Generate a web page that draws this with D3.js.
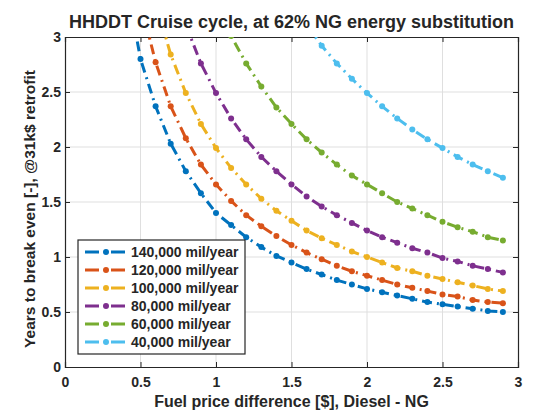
<html>
<head>
<meta charset="utf-8">
<script src="https://d3js.org/d3.v7.min.js"></script>
<style>
    body { margin: 0; background: #fff; }
    text { font-family: "Liberation Sans", Arial, sans-serif; font-weight: bold; fill: #262626; }
</style>
</head>
<body>
<div id="vis_container"></div>
<script>
    // fuel price difference [$], shared by all series
    var priceDiff = [0.4,0.5,0.6,0.7,0.8,0.9,1.0,1.1,1.2,1.3,1.4,1.5,1.6,1.7,1.8,1.9,2.0,2.1,2.2,2.3,2.4,2.5,2.6,2.7,2.8,2.9];

    // years to break even (null = not drawn)
    var y140k = [3.55,2.80,2.37,2.03,1.78,1.58,1.40,1.29,1.18,1.09,1.01,0.95,0.89,0.84,0.79,0.75,0.71,0.68,0.65,0.62,0.59,0.57,0.55,0.53,0.51,0.50];
    var y120k = [null,3.32,2.77,2.37,2.08,1.84,1.66,1.51,1.38,1.28,1.19,1.11,1.04,0.98,0.92,0.87,0.83,0.79,0.75,0.72,0.69,0.66,0.64,0.61,0.59,0.58];
    var y100k = [null,null,3.32,2.84,2.49,2.21,1.99,1.81,1.66,1.53,1.42,1.33,1.24,1.17,1.11,1.05,1.00,0.95,0.90,0.87,0.83,0.80,0.77,0.74,0.71,0.69];
    var y80k  = [null,null,null,null,3.11,2.76,2.49,2.26,2.07,1.91,1.78,1.66,1.55,1.46,1.38,1.31,1.24,1.18,1.13,1.08,1.04,0.99,0.96,0.92,0.89,0.86];
    var y60k  = [null,null,null,null,null,null,3.31,3.01,2.76,2.55,2.36,2.21,2.07,1.95,1.84,1.74,1.66,1.58,1.50,1.44,1.38,1.32,1.27,1.23,1.18,1.15];
    var y40k  = [null,null,null,null,null,null,null,null,null,null,null,null,3.11,2.92,2.76,2.62,2.49,2.37,2.26,2.16,2.07,1.99,1.91,1.84,1.78,1.72];

    var seriesNames = ["140,000 mil/year","120,000 mil/year","100,000 mil/year","80,000 mil/year","60,000 mil/year","40,000 mil/year"];
    var seriesValues = [y140k, y120k, y100k, y80k, y60k, y40k];
    var colors = ["#0072BD","#D95319","#EDB120","#7E2F8E","#77AC30","#4DBEEE"];

    var xTicks = [0,0.5,1,1.5,2,2.5,3];
    var yTicks = [0,0.5,1,1.5,2,2.5,3];

    var width = 536, height = 412;
    // plot box (don't call these top/left: window.top is read-only)
    var pLeft = 65, pRight = 518, pTop = 37, pBottom = 367;

    var svg = d3.select("#vis_container")
        .append("svg")
        .attr("width", width)
        .attr("height", height);

    var x = d3.scaleLinear().domain([0,3]).range([pLeft,pRight]);
    var y = d3.scaleLinear().domain([0,3]).range([pBottom,pTop]);

    //grid
    svg.append("g").selectAll("line").data(xTicks.slice(1,-1)).enter().append("line")
        .attr("x1", function(d){ return x(d); }).attr("x2", function(d){ return x(d); })
        .attr("y1", pTop).attr("y2", pBottom)
        .style("stroke", "#dfdfdf").style("stroke-width", 1);
    svg.append("g").selectAll("line").data(yTicks.slice(1,-1)).enter().append("line")
        .attr("y1", function(d){ return y(d); }).attr("y2", function(d){ return y(d); })
        .attr("x1", pLeft).attr("x2", pRight)
        .style("stroke", "#dfdfdf").style("stroke-width", 1);

    //axes, ticks pointing inward
    var xAxis = svg.append("g")
        .attr("transform", "translate(0," + pBottom + ")")
        .call(d3.axisBottom(x).tickValues(xTicks).tickSize(-5).tickPadding(10).tickFormat(d3.format("")));
    var xTop = svg.append("g")
        .attr("transform", "translate(0," + pTop + ")")
        .call(d3.axisTop(x).tickValues(xTicks).tickSize(-5).tickFormat(""));
    var yAxis = svg.append("g")
        .attr("transform", "translate(" + pLeft + ",0)")
        .call(d3.axisLeft(y).tickValues(yTicks).tickSize(-5).tickPadding(4).tickFormat(d3.format("")));
    var yRight = svg.append("g")
        .attr("transform", "translate(" + pRight + ",0)")
        .call(d3.axisRight(y).tickValues(yTicks).tickSize(-5).tickFormat(""));

    [xAxis, xTop, yAxis, yRight].forEach(function(g) {
        g.selectAll("path").style("stroke", "#262626").style("stroke-width", 1.2);
        g.selectAll("line").style("stroke", "#262626");
        g.selectAll("text").style("font-size", "14px").style("font-family", "Liberation Sans, Arial, sans-serif")
            .style("font-weight", "bold").style("fill", "#262626");
    });

    //clip to plot area
    svg.append("clipPath").attr("id", "clip")
        .append("rect").attr("x", pLeft).attr("y", pTop)
        .attr("width", pRight - pLeft).attr("height", pBottom - pTop);

    var line = d3.line()
        .defined(function(d){ return d[1] != null; })
        .x(function(d){ return x(d[0]); })
        .y(function(d){ return y(d[1]); });

    var plot = svg.append("g").attr("clip-path", "url(#clip)");

    seriesValues.forEach(function(vals, i) {
        var pts = priceDiff.map(function(p, j){ return [p, vals[j]]; });
        plot.append("path")
            .datum(pts)
            .attr("d", line)
            .style("fill", "none")
            .style("stroke", colors[i])
            .style("stroke-width", 3)
            .style("stroke-dasharray", "10,5,2,5");
        plot.selectAll(".m" + i)
            .data(pts.filter(function(d){ return d[1] != null; }))
            .enter().append("circle")
            .attr("class", "m" + i)
            .attr("cx", function(d){ return x(d[0]); })
            .attr("cy", function(d){ return y(d[1]); })
            .attr("r", 3)
            .style("fill", colors[i]);
    });

    //title and axis labels
    svg.append("text")
        .attr("x", (pLeft + pRight) / 2)
        .attr("y", 28)
        .style("text-anchor", "middle")
        .style("font-size", "18px")
        .text("HHDDT Cruise cycle, at 62% NG energy substitution");

    svg.append("text")
        .attr("x", (pLeft + pRight) / 2)
        .attr("y", 407)
        .style("text-anchor", "middle")
        .style("font-size", "16px")
        .text("Fuel price difference [$], Diesel - NG");

    svg.append("text")
        .attr("transform", "translate(35,209) rotate(-90)")
        .style("text-anchor", "middle")
        .style("font-size", "15.5px")
        .text("Years to break even [-], @31k$ retrofit");

    //legend
    var legend = svg.append("g");
    legend.append("rect")
        .attr("x", 78).attr("y", 240)
        .attr("width", 167).attr("height", 114)
        .style("fill", "#fff").style("stroke", "#262626").style("stroke-width", 1.2);

    seriesNames.forEach(function(name, i) {
        var ry = 252 + i * 18;
        legend.append("line")
            .attr("x1", 85).attr("x2", 125)
            .attr("y1", ry).attr("y2", ry)
            .style("stroke", colors[i]).style("stroke-width", 3)
            .style("stroke-dasharray", "14,5,2,5");
        legend.append("circle")
            .attr("cx", 106).attr("cy", ry).attr("r", 3)
            .style("fill", colors[i]);
        legend.append("text")
            .attr("x", 131).attr("y", ry + 5)
            .style("font-size", "14px")
            .text(name);
    });
</script>
</body>
</html>
